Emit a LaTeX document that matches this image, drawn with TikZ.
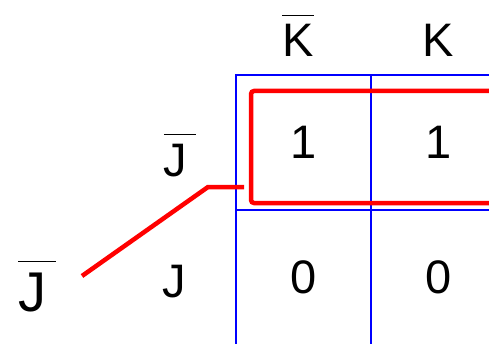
\documentclass[tikz,border=0pt]{standalone}
\usepackage{fontspec}
\setmainfont{Liberation Sans}
\usetikzlibrary{positioning}
\definecolor{Rejilla}{RGB}{0,0,255}
\definecolor{Lazo}{RGB}{255,0,0}
\newcommand{\conbarra}[2][0pt]{$\overline{\mbox{#2\kern#1\rule{0pt}{0.86em}}}$}
\tikzset{
  celda/.style={draw=Rejilla, line width=1.8pt, minimum size=135pt, inner sep=0pt,
    font=\fontsize{47}{50}\selectfont},
  etiq/.style={anchor=base, inner sep=0pt, font=\fontsize{#1}{50}\selectfont},
  etiq/.default=47,
  lazo/.style={draw=Lazo, line width=4.5pt, rounded corners=3pt},
}
\begin{document}
\begin{tikzpicture}[x=1pt,y=1pt]
  \useasboundingbox (0,0) rectangle (489,343);
  \clip (0,0) rectangle (489,343);
  % mapa de Karnaugh
  \node[celda] (c11) at (303.5,200.5) {1};
  \node[celda] (c12) at (438.5,200.5) {1};
  \node[celda] (c21) at (303.5,65.5) {0};
  \node[celda] (c22) at (438.5,65.5) {0};
  % etiquetas
  \node[etiq] (kneg) at (298,286) {\conbarra{K}};
  \node[etiq] (kpos) at (438,286) {K};
  \node[etiq] (jneg) at (180,167) {\conbarra[9pt]{J}};
  \node[etiq] (jpos) at (174,46) {J};
  \node[etiq=56] (jizq) at (37,32) {\conbarra[10pt]{J}};
  % lazo
  \draw[lazo] (520,140) -- (251,140) -- (251,252) -- (520,252);
  \coordinate (salida) at (82,67);
  \coordinate (codo) at (208,156);
  \coordinate (borde) at (244,156);
  \draw[lazo, rounded corners=0pt] (salida) -- (codo) -- (borde);
\end{tikzpicture}
\end{document}
